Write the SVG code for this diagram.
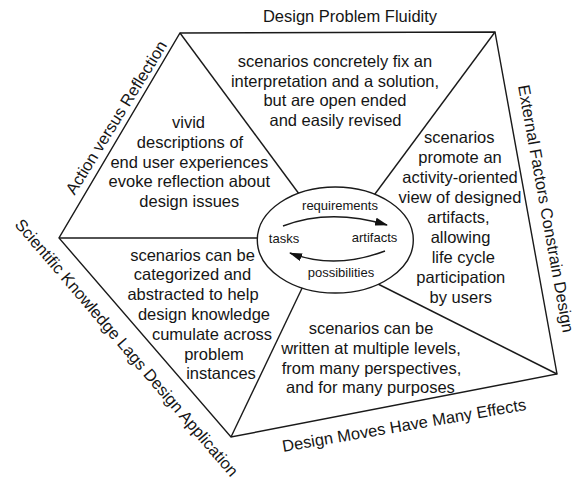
<svg xmlns="http://www.w3.org/2000/svg" width="578" height="479" viewBox="0 0 578 479">
<style>
.t{font-family:"Liberation Sans",Arial,sans-serif;font-size:16.5px;fill:#151515;text-anchor:middle}
.s{font-family:"Liberation Sans",Arial,sans-serif;font-size:13px;fill:#151515;text-anchor:middle}
.ln{stroke:#1a1a1a;stroke-width:1.4;fill:none;stroke-linejoin:miter}
</style>
<defs>
<marker id="ah" viewBox="0 0 13 8" markerWidth="13" markerHeight="8" refX="12" refY="4" orient="auto" markerUnits="userSpaceOnUse">
<path d="M0,0 L13,4 L0,8 z" fill="#111"/>
</marker>
</defs>
<rect width="578" height="479" fill="#fff"/>
<g id="connectors">
<polygon class="ln" points="180,33 495,32 557,374 231,437 59,238"/>
<line class="ln" x1="180" y1="33" x2="305" y2="202"/>
<line class="ln" x1="495" y1="32" x2="372" y2="198"/>
<line class="ln" x1="557" y1="374" x2="375" y2="282.5"/>
<line class="ln" x1="231" y1="437" x2="305" y2="282"/>
<line class="ln" x1="59" y1="238" x2="266" y2="238"/>
</g>
<g id="cycle">
<ellipse cx="335.3" cy="240" rx="78" ry="53" fill="#fff" stroke="#1a1a1a" stroke-width="1.4"/>
<path class="ln" d="M283,226 Q330,208 387,225" marker-end="url(#ah)"/>
<path class="ln" d="M385,251 Q335,270 290,253" marker-end="url(#ah)"/>
<text class="s" x="340" y="209.5">requirements</text>
<text class="s" x="284" y="243">tasks</text>
<text class="s" x="374.5" y="241.5">artifacts</text>
<text class="s" x="341" y="277.3">possibilities</text>
</g>
<g id="top-section">
<text class="t" x="335" y="67">scenarios concretely fix an</text>
<text class="t" x="335" y="86.5">interpretation and a solution,</text>
<text class="t" x="335" y="106">but are open ended</text>
<text class="t" x="335.5" y="125.5">and easily revised</text>
</g>
<g id="left-section">
<text class="t" x="188.5" y="128.3">vivid</text>
<text class="t" x="190" y="148">descriptions of</text>
<text class="t" x="189.3" y="167.6">end user experiences</text>
<text class="t" x="189.3" y="187.2">evoke reflection about</text>
<text class="t" x="189.3" y="206.8">design issues</text>
</g>
<g id="right-section">
<text class="t" x="459.2" y="143.3">scenarios</text>
<text class="t" x="460" y="163.2">promote an</text>
<text class="t" x="460" y="183.2">activity-oriented</text>
<text class="t" x="460" y="203.1">view of designed</text>
<text class="t" x="458.5" y="223.1">artifacts,</text>
<text class="t" x="460.5" y="243">allowing</text>
<text class="t" x="463.3" y="263">life cycle</text>
<text class="t" x="460.8" y="283">participation</text>
<text class="t" x="460.8" y="302.8">by users</text>
</g>
<g id="lower-left-section">
<text class="t" x="192.5" y="260.5">scenarios can be</text>
<text class="t" x="192.5" y="280.3">categorized and</text>
<text class="t" x="193" y="300.1">abstracted to help</text>
<text class="t" x="204" y="319.9">design knowledge</text>
<text class="t" x="212" y="339.7">cumulate across</text>
<text class="t" x="214" y="359.5">problem</text>
<text class="t" x="221" y="379.3">instances</text>
</g>
<g id="bottom-section">
<text class="t" x="371" y="334">scenarios can be</text>
<text class="t" x="371" y="353.8">written at multiple levels,</text>
<text class="t" x="371.5" y="373.6">from many perspectives,</text>
<text class="t" x="370.5" y="393.4">and for many purposes</text>
</g>
<g id="label-fluidity">
<text class="t" x="350" y="22">Design Problem Fluidity</text>
</g>
<g id="label-action">
<text class="t" transform="translate(116,117.4) rotate(-58.3)" x="0" y="6">Action versus Reflection</text>
</g>
<g id="label-external">
<text class="t" transform="translate(546.3,208.6) rotate(79.7)" x="0" y="6">External Factors Constrain Design</text>
</g>
<g id="label-scientific">
<text class="t" transform="translate(127,347.5) rotate(49.4)" x="0" y="6">Scientific Knowledge Lags Design Application</text>
</g>
<g id="label-moves">
<text class="t" transform="translate(404,425) rotate(-9.8)" x="0" y="6">Design Moves Have Many Effects</text>
</g>
</svg>
